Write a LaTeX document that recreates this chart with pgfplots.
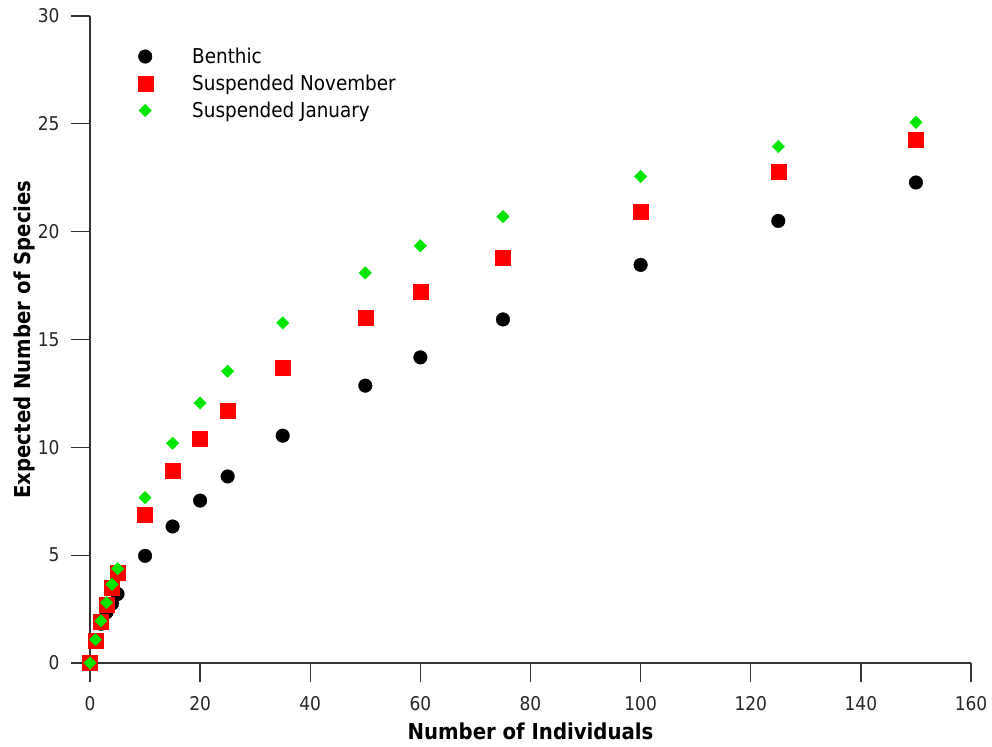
\documentclass[border=0pt]{standalone}
\usepackage{pgfplots}
\pgfplotsset{compat=1.18}
\usepackage{fontspec}
\setmainfont{DejaVu Sans Condensed}
\definecolor{bgreen}{RGB}{0,230,0}
\definecolor{bred}{RGB}{255,0,0}
\begin{document}
\begin{tikzpicture}[x=1bp,y=1bp]
\begin{axis}[
  scale only axis,
  width=881bp, height=647bp,
  xmin=0, xmax=160, ymin=0, ymax=30,
  xtick={0,20,...,160}, ytick={0,5,...,30},
  axis x line*=bottom, axis y line*=left,
  axis line style={line width=1.3bp, black!80},
  tick align=outside,
  major tick length=19bp,
  tick style={line width=1.3bp, black!80},
  /pgf/number format/assume math mode=true,
  ticklabel style={font=\fontsize{19}{22}\selectfont, text=black!85},
  xticklabel style={yshift=-11bp},
  yticklabel style={xshift=-8bp},
  xlabel={\textbf{Number of Individuals}},
  ylabel={\textbf{Expected Number of Species}},
  label style={font=\fontsize{22}{26}\selectfont},
  xlabel style={yshift=-5bp},
  ylabel style={yshift=-4bp},
  clip=false,
  legend cell align=left,
  legend style={draw=none, fill=none, at={(0.05,0.957)}, anchor=north west,
    font=\fontsize{20.5}{24}\selectfont, row sep=6bp},
  legend image code/.code={\path[draw=none] (-8bp,0bp) -- (45bp,0bp); \draw[#1] plot coordinates {(0bp,0bp)};},
]
\addplot[only marks, mark=*, mark size=6.8bp, black, mark options={fill=black}]
coordinates {(0,0) (1,1.0) (2,1.82) (3,2.35) (4,2.75) (5,3.2) (10,4.97) (15,6.33) (20,7.53) (25,8.65) (35,10.54) (50,12.86) (60,14.17) (75,15.93) (100,18.46) (125,20.5) (150,22.28)};
\addlegendentry{Benthic}
\addplot[only marks, mark=square*, mark size=7.5bp, bred, mark options={fill=bred}]
coordinates {(0,0) (1,1.05) (2,1.9) (3,2.7) (4,3.5) (5,4.2) (10,6.88) (15,8.93) (20,10.42) (25,11.72) (35,13.67) (50,16.0) (60,17.21) (75,18.79) (100,20.93) (125,22.79) (150,24.28)};
\addlegendentry{Suspended November}
\addplot[only marks, mark=square*, mark size=4.4bp, bgreen, mark options={fill=bgreen, rotate=45}]
coordinates {(0,0) (1,1.08) (2,1.95) (3,2.8) (4,3.65) (5,4.37) (10,7.67) (15,10.19) (20,12.05) (25,13.53) (35,15.77) (50,18.09) (60,19.35) (75,20.7) (100,22.56) (125,23.95) (150,25.07)};
\addlegendentry{Suspended January}
\end{axis}
\pgfresetboundingbox
\path[use as bounding box] (-90bp,-84bp) rectangle (902bp,663bp);
\end{tikzpicture}
\end{document}
